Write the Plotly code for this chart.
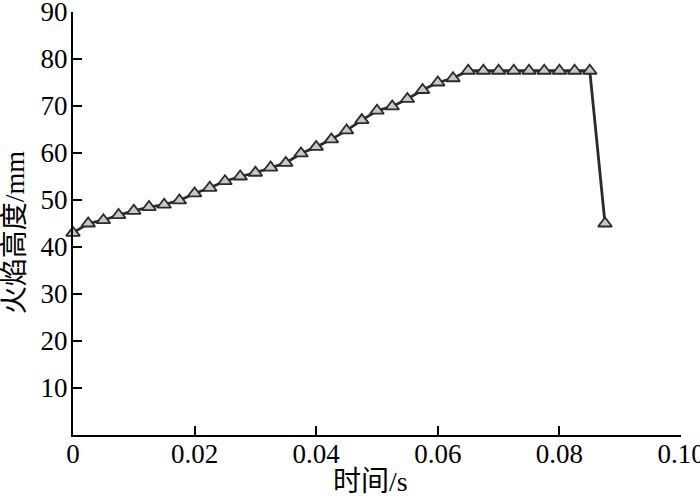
import plotly.graph_objects as go

time_s = [i * 0.0025 for i in range(36)]
flame_height_mm = [
    43.0, 45.0, 45.7, 46.8, 47.7, 48.5, 49.0, 49.9, 51.4, 52.6,
    54.0, 55.0, 55.8, 56.9, 57.9, 59.9, 61.3, 62.9, 64.8, 67.0,
    69.0, 69.9, 71.5, 73.4, 75.0, 75.9, 77.5, 77.5, 77.5, 77.5,
    77.5, 77.5, 77.5, 77.5, 77.5, 45.0,
]
x_tickvals = [0, 0.02, 0.04, 0.06, 0.08, 0.10]
x_ticktext = ["0", "0.02", "0.04", "0.06", "0.08", "0.10"]
y_tickvals = [10, 20, 30, 40, 50, 60, 70, 80, 90]
y_ticktext = ["10", "20", "30", "40", "50", "60", "70", "80", "90"]
x_title = "时间/s"
y_title = "火焰高度/mm"

FONT = "Liberation Serif, Times New Roman, Noto Sans CJK SC, serif"
FS = 27

fig = go.Figure()
fig.add_trace(go.Scatter(
    x=time_s, y=flame_height_mm, mode="lines+markers",
    line=dict(color="#2b2b2b", width=2.8),
    marker=dict(symbol="triangle-up", size=12, color="#c8c8c8",
                line=dict(color="#2b2b2b", width=1.8)),
    cliponaxis=False, showlegend=False,
))

axis_common = dict(
    showgrid=False, zeroline=False, showline=True, linewidth=2, linecolor="black",
    ticks="inside", ticklen=9, tickwidth=1.5, tickcolor="black",
    tickfont=dict(family=FONT, size=FS, color="black"),
    automargin=False, ticklabeloverflow="allow",
)

fig.update_layout(
    width=700, height=498,
    margin=dict(l=73, r=19, t=12, b=63),
    paper_bgcolor="white", plot_bgcolor="white",
    font=dict(family=FONT, size=FS, color="black"),
    xaxis=dict(range=[0, 0.1000001], tickvals=x_tickvals, ticktext=x_ticktext,
               ticklabelstandoff=-6, **axis_common),
    yaxis=dict(range=[0, 90.0001], tickvals=y_tickvals, ticktext=y_ticktext,
               ticklabelstandoff=-2, **axis_common),
    annotations=[
        dict(text=x_title, xref="paper", yref="paper", x=0.49, y=-0.11,
             xanchor="center", yanchor="middle", showarrow=False,
             font=dict(family=FONT, size=28, color="black")),
        dict(text=y_title, xref="paper", yref="paper", x=-0.095, y=0.48,
             xanchor="center", yanchor="middle", showarrow=False, textangle=-90,
             font=dict(family=FONT, size=28, color="black")),
    ],
)

fig.write_html(
    "out.html",
    config={"displayModeBar": False},
    post_script="document.body.style.margin='0px';document.body.style.padding='0px';",
)
